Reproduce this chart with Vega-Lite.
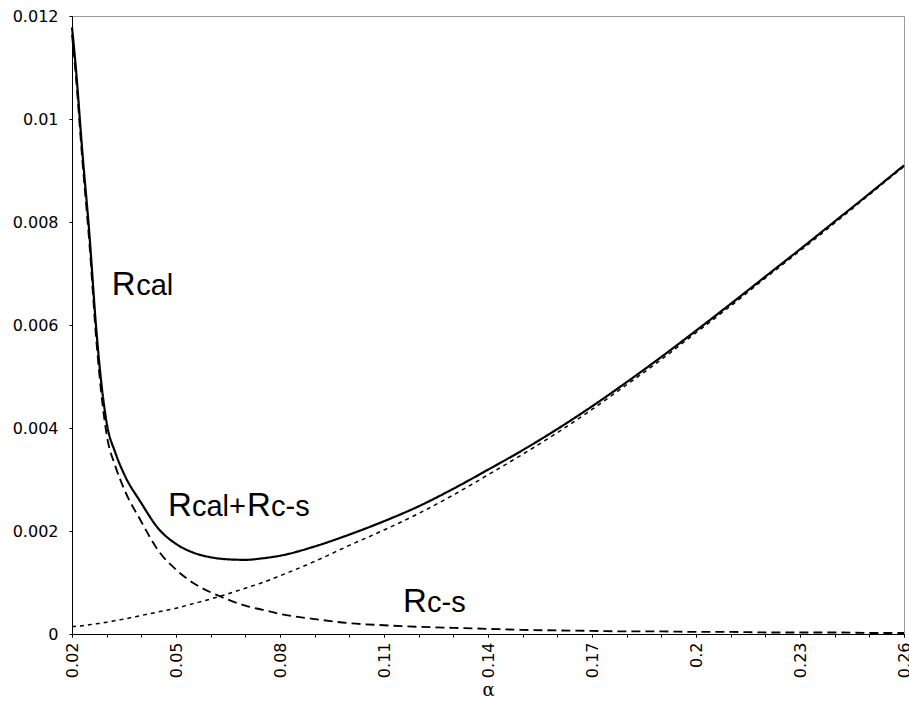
{
  "$schema": "https://vega.github.io/schema/vega-lite/v6.json",
  "width": 832,
  "height": 618,
  "autosize": "none",
  "padding": {"left": 72, "top": 16, "right": 5, "bottom": 77},
  "background": "white",
  "config": {
    "view": {"stroke": "#999999", "strokeWidth": 1},
    "axis": {"grid": false, "domainColor": "black", "tickColor": "black", "labelFont": "DejaVu Sans", "labelFontSize": 16, "labelColor": "black", "tickSize": 3}
  },
  "resolve": {"axis": {"x": "independent"}},
  "datasets": {
    "curves": [
      {"a":0.020,"s":"Rcal+Rc-s","v":0.01178},{"a":0.020,"s":"Rcal","v":0.01164},{"a":0.020,"s":"Rc-s","v":0.00014},
      {"a":0.021,"s":"Rcal+Rc-s","v":0.01108},{"a":0.021,"s":"Rcal","v":0.01093},{"a":0.021,"s":"Rc-s","v":0.00015},
      {"a":0.023,"s":"Rcal+Rc-s","v":0.00935},{"a":0.023,"s":"Rcal","v":0.00919},{"a":0.023,"s":"Rc-s","v":0.00016},
      {"a":0.025,"s":"Rcal+Rc-s","v":0.00778},{"a":0.025,"s":"Rcal","v":0.00760},{"a":0.025,"s":"Rc-s","v":0.00018},
      {"a":0.027,"s":"Rcal+Rc-s","v":0.00592},{"a":0.027,"s":"Rcal","v":0.00572},{"a":0.027,"s":"Rc-s","v":0.00020},
      {"a":0.0285,"s":"Rcal+Rc-s","v":0.00485},{"a":0.0285,"s":"Rcal","v":0.00464},{"a":0.0285,"s":"Rc-s","v":0.00021},
      {"a":0.030,"s":"Rcal+Rc-s","v":0.00410},{"a":0.030,"s":"Rcal","v":0.00387},{"a":0.030,"s":"Rc-s","v":0.00023},
      {"a":0.0325,"s":"Rcal+Rc-s","v":0.00352},{"a":0.0325,"s":"Rcal","v":0.00326},{"a":0.0325,"s":"Rc-s","v":0.00026},
      {"a":0.035,"s":"Rcal+Rc-s","v":0.00311},{"a":0.035,"s":"Rcal","v":0.00282},{"a":0.035,"s":"Rc-s","v":0.00029},
      {"a":0.040,"s":"Rcal+Rc-s","v":0.00254},{"a":0.040,"s":"Rcal","v":0.00218},{"a":0.040,"s":"Rc-s","v":0.00036},
      {"a":0.045,"s":"Rcal+Rc-s","v":0.00204},{"a":0.045,"s":"Rcal","v":0.00161},{"a":0.045,"s":"Rc-s","v":0.00043},
      {"a":0.050,"s":"Rcal+Rc-s","v":0.00175},{"a":0.050,"s":"Rcal","v":0.00125},{"a":0.050,"s":"Rc-s","v":0.00050},
      {"a":0.055,"s":"Rcal+Rc-s","v":0.00158},{"a":0.055,"s":"Rcal","v":0.00099},{"a":0.055,"s":"Rc-s","v":0.00059},
      {"a":0.060,"s":"Rcal+Rc-s","v":0.00149},{"a":0.060,"s":"Rcal","v":0.00081},{"a":0.060,"s":"Rc-s","v":0.00068},
      {"a":0.065,"s":"Rcal+Rc-s","v":0.00145},{"a":0.065,"s":"Rcal","v":0.00067},{"a":0.065,"s":"Rc-s","v":0.00078},
      {"a":0.070,"s":"Rcal+Rc-s","v":0.00144},{"a":0.070,"s":"Rcal","v":0.00055},{"a":0.070,"s":"Rc-s","v":0.00089},
      {"a":0.075,"s":"Rcal+Rc-s","v":0.00147},{"a":0.075,"s":"Rcal","v":0.00047},{"a":0.075,"s":"Rc-s","v":0.00100},
      {"a":0.080,"s":"Rcal+Rc-s","v":0.00152},{"a":0.080,"s":"Rcal","v":0.00039},{"a":0.080,"s":"Rc-s","v":0.00113},
      {"a":0.090,"s":"Rcal+Rc-s","v":0.00170},{"a":0.090,"s":"Rcal","v":0.00029},{"a":0.090,"s":"Rc-s","v":0.00141},
      {"a":0.100,"s":"Rcal+Rc-s","v":0.00193},{"a":0.100,"s":"Rcal","v":0.00021},{"a":0.100,"s":"Rc-s","v":0.00172},
      {"a":0.110,"s":"Rcal+Rc-s","v":0.00219},{"a":0.110,"s":"Rcal","v":0.00017},{"a":0.110,"s":"Rc-s","v":0.00202},
      {"a":0.120,"s":"Rcal+Rc-s","v":0.00248},{"a":0.120,"s":"Rcal","v":0.00014},{"a":0.120,"s":"Rc-s","v":0.00234},
      {"a":0.130,"s":"Rcal+Rc-s","v":0.00282},{"a":0.130,"s":"Rcal","v":0.00012},{"a":0.130,"s":"Rc-s","v":0.00270},
      {"a":0.140,"s":"Rcal+Rc-s","v":0.00319},{"a":0.140,"s":"Rcal","v":0.00010},{"a":0.140,"s":"Rc-s","v":0.00309},
      {"a":0.150,"s":"Rcal+Rc-s","v":0.00357},{"a":0.150,"s":"Rcal","v":0.00008},{"a":0.150,"s":"Rc-s","v":0.00349},
      {"a":0.160,"s":"Rcal+Rc-s","v":0.00398},{"a":0.160,"s":"Rcal","v":0.00007},{"a":0.160,"s":"Rc-s","v":0.00391},
      {"a":0.170,"s":"Rcal+Rc-s","v":0.00442},{"a":0.170,"s":"Rcal","v":0.00006},{"a":0.170,"s":"Rc-s","v":0.00436},
      {"a":0.180,"s":"Rcal+Rc-s","v":0.00489},{"a":0.180,"s":"Rcal","v":0.00005},{"a":0.180,"s":"Rc-s","v":0.00484},
      {"a":0.190,"s":"Rcal+Rc-s","v":0.00538},{"a":0.190,"s":"Rcal","v":0.00005},{"a":0.190,"s":"Rc-s","v":0.00533},
      {"a":0.200,"s":"Rcal+Rc-s","v":0.00589},{"a":0.200,"s":"Rcal","v":0.00004},{"a":0.200,"s":"Rc-s","v":0.00585},
      {"a":0.210,"s":"Rcal+Rc-s","v":0.00641},{"a":0.210,"s":"Rcal","v":0.00004},{"a":0.210,"s":"Rc-s","v":0.00637},
      {"a":0.220,"s":"Rcal+Rc-s","v":0.00694},{"a":0.220,"s":"Rcal","v":0.00003},{"a":0.220,"s":"Rc-s","v":0.00691},
      {"a":0.230,"s":"Rcal+Rc-s","v":0.00747},{"a":0.230,"s":"Rcal","v":0.00003},{"a":0.230,"s":"Rc-s","v":0.00744},
      {"a":0.240,"s":"Rcal+Rc-s","v":0.00801},{"a":0.240,"s":"Rcal","v":0.00003},{"a":0.240,"s":"Rc-s","v":0.00798},
      {"a":0.250,"s":"Rcal+Rc-s","v":0.00855},{"a":0.250,"s":"Rcal","v":0.00002},{"a":0.250,"s":"Rc-s","v":0.00853},
      {"a":0.260,"s":"Rcal+Rc-s","v":0.00910},{"a":0.260,"s":"Rcal","v":0.00002},{"a":0.260,"s":"Rc-s","v":0.00908}
    ],
    "labels": [
      {"a":0.0315,"v":0.00659,"t":"R","k":"big"},
      {"a":0.0385,"v":0.00659,"t":"cal","k":"small"},
      {"a":0.0477,"v":0.00229,"t":"R","k":"big"},
      {"a":0.0546,"v":0.00229,"t":"cal+","k":"small"},
      {"a":0.0705,"v":0.00229,"t":"R","k":"big"},
      {"a":0.0774,"v":0.00229,"t":"c-s","k":"small"},
      {"a":0.1155,"v":0.00043,"t":"R","k":"big"},
      {"a":0.1224,"v":0.00043,"t":"c-s","k":"small"}
    ]
  },
  "layer": [
    {
      "data": {"name": "curves"},
      "mark": {"type": "line", "interpolate": "monotone", "color": "black"},
      "encoding": {
        "x": {
          "field": "a", "type": "quantitative",
          "scale": {"domain": [0.02, 0.26], "nice": false, "zero": false},
          "axis": {
            "orient": "bottom",
            "values": [0.02,0.05,0.08,0.11,0.14,0.17,0.20,0.23,0.26],
            "format": ".2~f",
            "labelAngle": 270,
            "labelPadding": 5,
            "labelOverlap": false,
            "labelBound": false,
            "labelFlush": false,
            "title": "α",
            "titleFont": "DejaVu Serif",
            "titleFontSize": 18,
            "titleFontWeight": "normal",
            "titleColor": "black",
            "titlePadding": 4
          }
        },
        "y": {
          "field": "v", "type": "quantitative",
          "scale": {"domain": [0, 0.012], "nice": false},
          "axis": {
            "values": [0, 0.002, 0.004, 0.006, 0.008, 0.01, 0.012],
            "format": "~g",
            "labelPadding": 11,
            "labelOverlap": false,
            "labelFlush": false,
            "title": null
          }
        },
        "strokeDash": {
          "field": "s", "type": "nominal",
          "scale": {"domain": ["Rcal+Rc-s", "Rcal", "Rc-s"], "range": [[1, 0], [9, 5], [4, 4]]},
          "legend": null
        },
        "strokeWidth": {
          "field": "s", "type": "nominal",
          "scale": {"domain": ["Rcal+Rc-s", "Rcal", "Rc-s"], "range": [2.2, 1.5, 1.6]},
          "legend": null
        }
      }
    },
    {
      "data": {"name": "labels"},
      "mark": {"type": "text", "align": "left", "baseline": "alphabetic", "color": "black", "font": "Liberation Sans"},
      "encoding": {
        "x": {
          "field": "a", "type": "quantitative",
          "scale": {"domain": [0.02, 0.26], "nice": false, "zero": false},
          "axis": {
            "orient": "bottom",
            "values": [0.02,0.03,0.04,0.05,0.06,0.07,0.08,0.09,0.10,0.11,0.12,0.13,0.14,0.15,0.16,0.17,0.18,0.19,0.20,0.21,0.22,0.23,0.24,0.25,0.26],
            "labels": false,
            "domain": false,
            "title": null,
            "offset": 0
          }
        },
        "y": {"field": "v", "type": "quantitative"},
        "text": {"field": "t"},
        "size": {"field": "k", "type": "nominal", "scale": {"domain": ["big", "small"], "range": [33, 29]}, "legend": null}
      }
    }
  ]
}
